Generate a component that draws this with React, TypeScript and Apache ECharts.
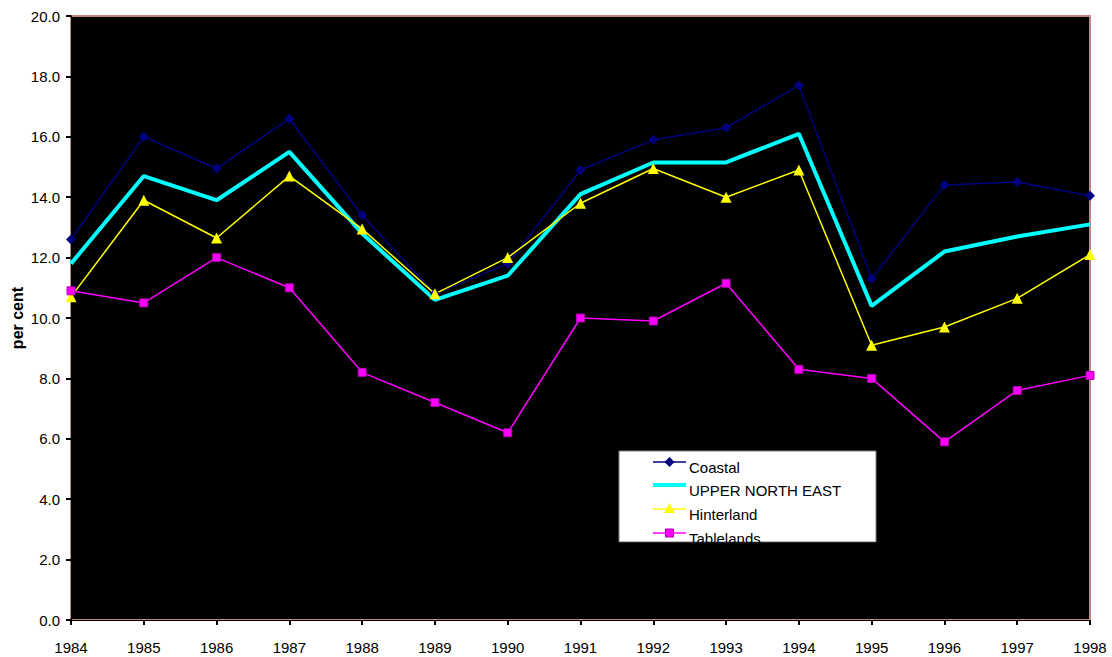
import React, { useEffect, useRef } from "react";
import * as echarts from "echarts";

const years = ["1984", "1985", "1986", "1987", "1988", "1989", "1990", "1991", "1992", "1993", "1994", "1995", "1996", "1997", "1998"];

const coastal = [12.6, 16.0, 14.95, 16.6, 13.4, 10.8, 11.8, 14.9, 15.9, 16.3, 17.7, 11.3, 14.4, 14.5, 14.05];
const upperNorthEast = [11.8, 14.7, 13.9, 15.5, 12.8, 10.6, 11.4, 14.1, 15.15, 15.15, 16.1, 10.4, 12.2, 12.7, 13.1];
const hinterland = [10.7, 13.9, 12.65, 14.7, 12.95, 10.8, 12.0, 13.8, 14.95, 14.0, 14.9, 9.1, 9.7, 10.65, 12.1];
const tablelands = [10.9, 10.5, 12.0, 11.0, 8.2, 7.2, 6.2, 10.0, 9.9, 11.15, 8.3, 8.0, 5.9, 7.6, 8.1];

const seriesNames = ["Coastal", "UPPER NORTH EAST", "Hinterland", "Tablelands"];
const seriesColors = ["#000080", "#00ffff", "#ffff00", "#ff00ff"];

export default function App() {
  const ref = useRef<HTMLDivElement>(null);

  useEffect(() => {
    if (!ref.current) return;
    const chart = echarts.init(ref.current, null, { renderer: "svg" });

    const font = "Arial, 'Liberation Sans', sans-serif";

    // legend box drawn by hand (its last row is cut off by the box's bottom edge)
    const legX = 619;
    const legY = 451;
    const legW = 257;
    const legH = 91;
    const rowY = [462, 485, 509, 533];
    const symbols: any[] = [
      { type: "polygon", shape: { points: [[0, -5], [5, 0], [0, 5], [-5, 0]] }, style: { fill: seriesColors[0] } },
      null,
      { type: "polygon", shape: { points: [[0, -6], [5.5, 4], [-5.5, 4]] }, style: { fill: seriesColors[2] } },
      { type: "rect", shape: { x: -4, y: -4, width: 8, height: 8 }, style: { fill: seriesColors[3], stroke: "#b000b0", lineWidth: 1 } },
    ];
    const legendEls: any[] = [
      { type: "rect", shape: { x: legX, y: legY, width: legW, height: legH }, style: { fill: "#ffffff", stroke: "#808080", lineWidth: 1 }, z: 10 },
    ];
    seriesNames.forEach((name, i) => {
      legendEls.push({
        type: "line",
        shape: { x1: 653, y1: rowY[i], x2: 686, y2: rowY[i] },
        style: { stroke: seriesColors[i], lineWidth: i === 1 ? 4 : 1.5 },
        z: 11,
      });
      if (symbols[i]) {
        legendEls.push({ ...symbols[i], x: 669.5, y: rowY[i], z: 12 });
      }
      legendEls.push({
        type: "text",
        x: 689,
        y: rowY[i] + 5,
        style: { text: name, fill: "#000", font: `15px ${font}`, verticalAlign: "middle" },
        z: 12,
      });
    });
    // black strip below the legend box hides the overflow of the last row
    legendEls.push({ type: "rect", shape: { x: legX - 1, y: legY + legH + 0.5, width: legW + 2, height: 20 }, style: { fill: "#000" }, z: 13 });

    chart.setOption({
      animation: false,
      backgroundColor: "#ffffff",
      grid: {
        left: 71,
        top: 16,
        right: 22,
        bottom: 37,
        containLabel: false,
        outerBoundsMode: "none",
        show: true,
        backgroundColor: "#000000",
        borderColor: "#c08484",
        borderWidth: 2,
      },
      xAxis: {
        type: "category",
        data: years,
        boundaryGap: false,
        axisLine: { lineStyle: { color: "#000", width: 1 } },
        axisTick: { show: true, alignWithLabel: true, length: 5, lineStyle: { color: "#000", width: 2 } },
        axisLabel: { color: "#000", fontFamily: font, fontSize: 15, margin: 20 },
        splitLine: { show: false },
      },
      yAxis: {
        type: "value",
        min: 0,
        max: 20,
        interval: 2,
        name: "per cent",
        nameLocation: "middle",
        nameGap: 46,
        nameMoveOverlap: false,
        nameTextStyle: { color: "#000", fontFamily: font, fontSize: 16, fontWeight: "bold" },
        axisLine: { show: true, lineStyle: { color: "#000", width: 1 } },
        axisTick: { show: true, length: 5, lineStyle: { color: "#000", width: 2 } },
        axisLabel: {
          color: "#000",
          fontFamily: font,
          fontSize: 15,
          margin: 11,
          padding: [9, 0, 0, 0],
          formatter: (v: number) => v.toFixed(1),
        },
        splitLine: { show: false },
      },
      series: [
        {
          name: seriesNames[0],
          type: "line",
          data: coastal,
          symbol: "diamond",
          symbolSize: 10,
          lineStyle: { color: seriesColors[0], width: 1.5 },
          itemStyle: { color: seriesColors[0] },
        },
        {
          name: seriesNames[1],
          type: "line",
          data: upperNorthEast,
          symbol: "none",
          lineStyle: { color: seriesColors[1], width: 4 },
          itemStyle: { color: seriesColors[1] },
        },
        {
          name: seriesNames[2],
          type: "line",
          data: hinterland,
          symbol: "triangle",
          symbolSize: 11,
          lineStyle: { color: seriesColors[2], width: 1.5 },
          itemStyle: { color: seriesColors[2] },
        },
        {
          name: seriesNames[3],
          type: "line",
          data: tablelands,
          symbol: "rect",
          symbolSize: 8,
          lineStyle: { color: seriesColors[3], width: 1.5 },
          itemStyle: { color: seriesColors[3], borderColor: "#b000b0", borderWidth: 1 },
        },
      ],
      graphic: legendEls,
    });

    return () => chart.dispose();
  }, []);

  return (
    <div
      ref={ref}
      style={{ position: "fixed", left: 0, top: 0, width: 1112, height: 657 }}
    />
  );
}
